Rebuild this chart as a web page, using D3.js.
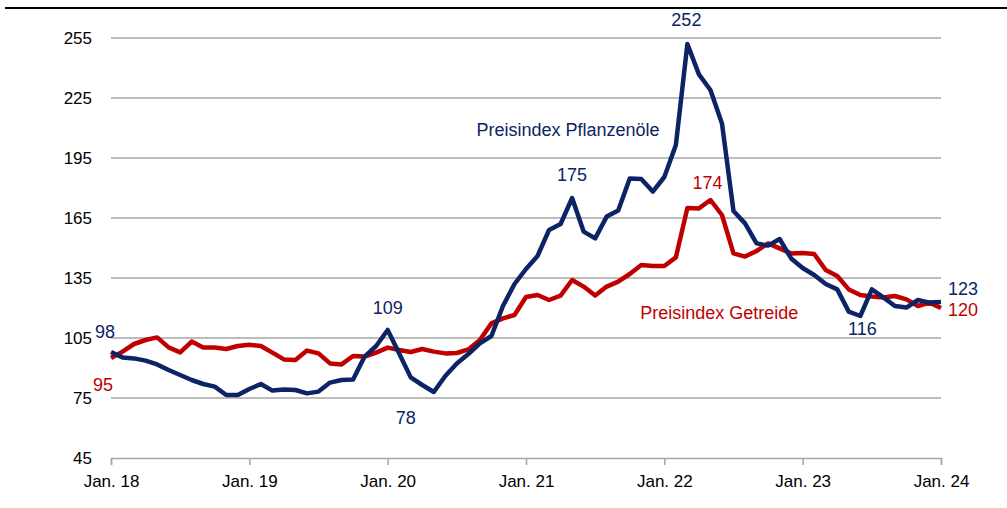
<!DOCTYPE html>
<html>
<head>
<meta charset="utf-8">
<script src="https://cdn.jsdelivr.net/npm/d3@7"></script>
<style>
  body { margin: 0; background: #fff; }
  svg { display: block; font-family: "Liberation Sans", Arial, sans-serif; }
</style>
</head>
<body>
<svg id="chart" width="1007" height="508"></svg>
<script>
// monthly index values, Jan. 18 .. Jan. 24
const pflanzenoele = [
  98, 95.3, 94.8, 93.7, 91.8, 89, 86.5, 84, 82, 80.7, 76.5, 76.5,
  79.5, 82, 78.7, 79.3, 79, 77.3, 78.2, 82.7, 84, 84.3, 95.7, 101,
  109, 97.3, 85.3, 81.5, 78, 86, 92.3, 97, 102.3, 106, 121, 132,
  139.5, 146, 159, 162, 175, 158.2, 154.8, 165.7, 168.7, 184.8, 184.5, 178.2,
  185.5, 201.5, 252, 236.8, 229, 212.3, 168.5, 162.3, 152.3, 151.2, 154.5, 144.8,
  140, 136.5, 132, 129.3, 118.2, 116, 129.3, 125.3, 121, 120.2, 124, 122.7,
  123
];
const getreide = [
  95, 98.2, 102, 104, 105.3, 100.3, 97.8, 103.2, 100.3, 100.3, 99.5, 101,
  101.6, 101, 97.7, 94.3, 94, 98.7, 97.3, 92.3, 91.8, 96, 95.7, 97.7,
  100.2, 99, 98, 99.5, 98.2, 97.3, 97.5, 99.3, 104, 112.3, 114.8, 116.5,
  125.5, 126.5, 124, 126.2, 134, 130.7, 126.2, 130.7, 133.2, 137, 141.5, 141,
  141, 145.3, 170, 169.8, 174, 166.5, 147.3, 145.7, 148.5, 152.3, 149.8, 147.3,
  147.5, 147, 139, 136, 129.3, 126.5, 125.7, 125.2, 126, 124.3, 121, 122.7,
  120
];
const yTicks = [45, 75, 105, 135, 165, 195, 225, 255];
const xTickLabels = ["Jan. 18", "Jan. 19", "Jan. 20", "Jan. 21", "Jan. 22", "Jan. 23", "Jan. 24"];

// point labels: [series, month index, text]
const pointLabels = [
  ["b", 0, "98"], ["r", 0, "95"], ["b", 24, "109"], ["b", 28, "78"],
  ["b", 40, "175"], ["b", 50, "252"], ["r", 52, "174"], ["b", 65, "116"],
  ["b", 72, "123"], ["r", 72, "120"]
];

const blue = "#0c2466";
const red = "#c00000";

const svg = d3.select("#chart");
const margin = { top: 38, left: 111, right: 66, bottom: 50 };
const width = 1007 - margin.left - margin.right;
const height = 508 - margin.top - margin.bottom;

const x = d3.scaleLinear().domain([0, 72]).range([0, width]);
const y = d3.scaleLinear().domain([45, 255]).range([height, 0]);

// top rule
svg.append("line")
  .attr("x1", 5).attr("x2", 1007).attr("y1", 8).attr("y2", 8)
  .attr("stroke", "#000").attr("stroke-width", 2);

const g = svg.append("g").attr("transform", "translate(" + margin.left + "," + margin.top + ")");

// gridlines
g.selectAll(".grid")
  .data(yTicks.slice(1))
  .enter().append("line")
  .attr("x1", 0).attr("x2", width)
  .attr("y1", d => y(d)).attr("y2", d => y(d))
  .attr("stroke", "#a6a6a6").attr("stroke-width", 1.5);

// y labels
g.selectAll(".ylab")
  .data(yTicks)
  .enter().append("text")
  .attr("x", -19).attr("y", d => y(d))
  .attr("dy", "0.35em")
  .attr("text-anchor", "end")
  .attr("font-size", 17)
  .attr("fill", "#000")
  .text(d => d);

// x axis
const xAxis = g.append("g")
  .attr("transform", "translate(0," + height + ")")
  .call(d3.axisBottom(x).tickValues(d3.range(0, 73, 12)).tickSize(7).tickFormat((d, i) => xTickLabels[i]));
xAxis.select(".domain").attr("stroke", "#a6a6a6").attr("stroke-width", 1.5);
xAxis.selectAll(".tick line").attr("stroke", "#a6a6a6").attr("stroke-width", 1.5);
xAxis.selectAll(".tick text")
  .attr("font-family", "'Liberation Sans Narrow', 'Liberation Sans', Arial, sans-serif")
  .attr("font-size", 17).attr("fill", "#000").attr("dy", "1.1em");

const line = d3.line()
  .x((d, i) => x(i))
  .y(d => y(d));

g.append("path").datum(getreide)
  .attr("fill", "none").attr("stroke", red).attr("stroke-width", 4.5)
  .attr("stroke-linejoin", "round")
  .attr("d", line);

g.append("path").datum(pflanzenoele)
  .attr("fill", "none").attr("stroke", blue).attr("stroke-width", 4.5)
  .attr("stroke-linejoin", "round")
  .attr("d", line);

// value labels: dx, dy, anchor
const offsets = {
  "b0": [-6, -20, "middle"], "r0": [-8, 27, "middle"], "b24": [0, -22, "middle"],
  "b28": [-28, 26, "middle"], "b40": [0, -23, "middle"], "b50": [-1, -24, "middle"],
  "r52": [-3, -17, "middle"], "b65": [2, 13, "middle"], "b72": [7, -13, "start"],
  "r72": [7, 2, "start"]
};
g.selectAll(".vlab")
  .data(pointLabels)
  .enter().append("text")
  .attr("x", d => x(d[1]) + offsets[d[0] + d[1]][0])
  .attr("y", d => y((d[0] === "b" ? pflanzenoele : getreide)[d[1]]) + offsets[d[0] + d[1]][1])
  .attr("dy", "0.35em")
  .attr("text-anchor", d => offsets[d[0] + d[1]][2])
  .attr("font-size", 18)
  .attr("fill", d => d[0] === "b" ? blue : red)
  .text(d => d[2]);

// series names
g.append("text").attr("x", x(31.7)).attr("y", y(209)).attr("dy", "0.35em")
  .attr("font-size", 18).attr("fill", blue).text("Preisindex Pflanzenöle");
g.append("text").attr("x", x(45.9)).attr("y", y(117.5)).attr("dy", "0.35em")
  .attr("font-size", 18).attr("fill", red).text("Preisindex Getreide");
</script>
</body>
</html>
